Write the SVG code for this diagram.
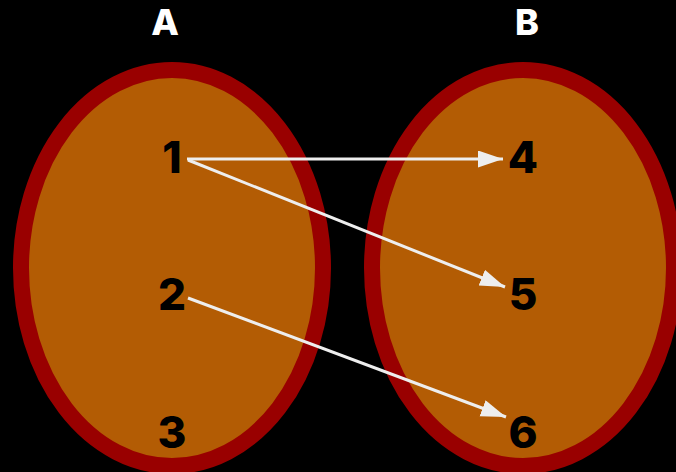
<svg xmlns="http://www.w3.org/2000/svg" width="676" height="472" viewBox="0 0 676 472">
<style>
.set{fill:#B35C04;stroke:#990000;stroke-width:16}
.title{font-family:Inter,"Liberation Sans",Arial,sans-serif;font-weight:800;font-size:36px;fill:#ffffff;text-anchor:middle}
.num{font-family:Inter,"Liberation Sans",Arial,sans-serif;font-weight:800;font-size:44px;fill:#000000;text-anchor:middle}
.edge{stroke:#EEEEEE;stroke-width:3;fill:none}
</style>
<defs>
<marker id="arr" markerUnits="userSpaceOnUse" markerWidth="26" markerHeight="18" refX="25" refY="8.5" orient="auto">
<path d="M0,0 L25,8.5 L0,17 z" fill="#EEEEEE"/>
</marker>
</defs>
<rect width="676" height="472" fill="#000000"/>
<g id="setA">
<ellipse class="set" cx="172" cy="268" rx="151" ry="198"/>
<text class="title" x="165" y="35">A</text>
</g>
<g id="setB">
<ellipse class="set" cx="523" cy="268" rx="151" ry="198"/>
<text class="title" x="527" y="35">B</text>
</g>
<g id="n1"><text class="num" x="172" y="173">1</text></g>
<g id="n2"><text class="num" x="172" y="310">2</text></g>
<g id="n3"><text class="num" x="172" y="448">3</text></g>
<g id="n4"><text class="num" x="523" y="173">4</text></g>
<g id="n5"><text class="num" x="523" y="310">5</text></g>
<g id="n6"><text class="num" x="523" y="448">6</text></g>
<g id="connectors">
<line class="edge" x1="187" y1="159" x2="503" y2="159" marker-end="url(#arr)"/>
<line class="edge" x1="188" y1="160" x2="505" y2="287" marker-end="url(#arr)"/>
<line class="edge" x1="188" y1="298" x2="506" y2="417" marker-end="url(#arr)"/>
</g>
</svg>
